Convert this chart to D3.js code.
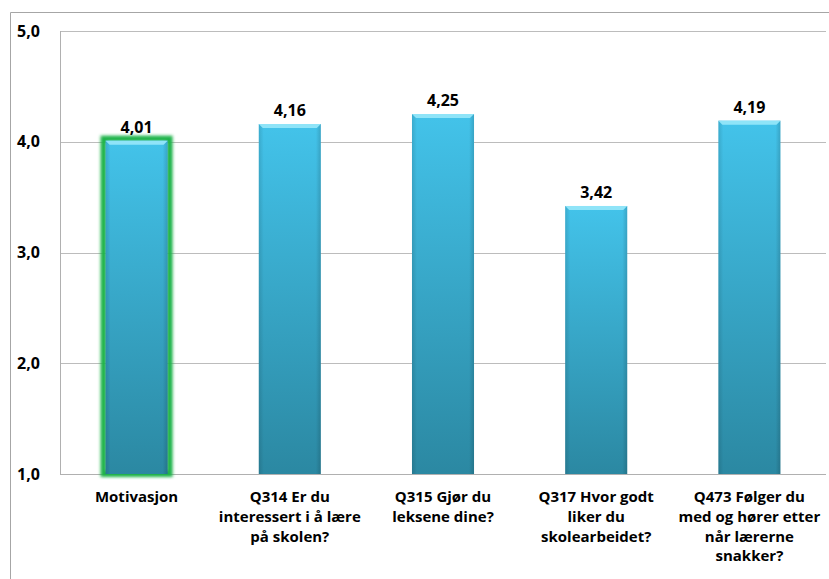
<!DOCTYPE html>
<html><head><meta charset="utf-8">
<script src="https://cdn.jsdelivr.net/npm/d3@7"></script>
<style>
body{margin:0;background:#fff;}
text{font-family:"Open Sans","Noto Sans",sans-serif;font-weight:bold;fill:#000;}
</style></head>
<body><svg id="c" width="829" height="579"></svg>
<script>
const categories = ["Motivasjon","Q314 Er du\ninteressert i å lære\npå skolen?","Q315 Gjør du\nleksene dine?","Q317 Hvor godt\nliker du\nskolearbeidet?","Q473 Følger du\nmed og hører etter\nnår lærerne\nsnakker?"];
const values = [4.01,4.16,4.25,3.42,4.19];
const valueLabels = ["4,01","4,16","4,25","3,42","4,19"];
const yTicks = [1,2,3,4,5];
const yTickLabels = ["1,0","2,0","3,0","4,0","5,0"];
const highlighted = [true,false,false,false,false];

const svg = d3.select("#c");
const L=60, R=826, T=31, B=474;
const x = d3.scaleBand().domain(categories).range([L,R]).paddingInner(0.595).paddingOuter(0.2975);
const y = d3.scaleLinear().domain([1,5]).range([B,T]);

const defs = svg.append("defs");
const gv = defs.append("linearGradient").attr("id","gv").attr("x1",0).attr("y1",0).attr("x2",0).attr("y2",1);
gv.append("stop").attr("offset","0%").attr("stop-color","#43c3ea");
gv.append("stop").attr("offset","100%").attr("stop-color","#2b88a2");
const gh = defs.append("linearGradient").attr("id","gh").attr("x1",0).attr("y1",0).attr("x2",1).attr("y2",0);
gh.append("stop").attr("offset","0%").attr("stop-color","#000").attr("stop-opacity",0.12);
gh.append("stop").attr("offset","8%").attr("stop-color","#000").attr("stop-opacity",0);
gh.append("stop").attr("offset","92%").attr("stop-color","#000").attr("stop-opacity",0);
gh.append("stop").attr("offset","100%").attr("stop-color","#000").attr("stop-opacity",0.15);
const f = defs.append("filter").attr("id","glow").attr("x","-30%").attr("y","-30%").attr("width","160%").attr("height","160%");
f.append("feGaussianBlur").attr("stdDeviation",1.8);

// outer frame
svg.append("path").attr("d",`M10.5,${579} V12.5 H829`).attr("fill","none").attr("stroke","#a6a6a6");

// gridlines
svg.append("g").selectAll("line").data(yTicks.filter(d=>d>1)).join("line")
  .attr("x1",L).attr("x2",R).attr("y1",d=>Math.round(y(d))+0.5).attr("y2",d=>Math.round(y(d))+0.5)
  .attr("stroke","#bcbcbc");
// axes lines
svg.append("line").attr("x1",L+0.5).attr("x2",L+0.5).attr("y1",T).attr("y2",B+0.5).attr("stroke","#b0b0b0");
svg.append("line").attr("x1",L).attr("x2",R).attr("y1",Math.round(y(1))+0.5).attr("y2",Math.round(y(1))+0.5).attr("stroke","#b0b0b0");

// y tick labels
svg.append("g").selectAll("text").data(yTicks).join("text")
  .attr("x",17).attr("y",d=>y(d)+5.5).attr("font-size",16).text((d,i)=>yTickLabels[i]);

// bars
const bars = svg.append("g").selectAll("g").data(categories).join("g");
bars.each(function(c,i){
  const g = d3.select(this);
  const x0 = x(c), w = x.bandwidth(), yt = y(values[i]), h = y(1)-yt;
  if(highlighted[i]){
    g.append("rect").attr("x",x0-2).attr("y",yt-2).attr("width",w+4).attr("height",h+2)
      .attr("fill","none").attr("stroke","#1fb34a").attr("stroke-width",6).attr("filter","url(#glow)");
  }
  g.append("rect").attr("x",x0).attr("y",yt).attr("width",w).attr("height",h).attr("fill","url(#gv)");
  g.append("rect").attr("x",x0).attr("y",yt).attr("width",w).attr("height",h).attr("fill","url(#gh)");
  g.append("path").attr("d",`M${x0},${yt} H${x0+w} L${x0+w-4},${yt+4} H${x0+4} Z`).attr("fill","#8fe4f8");
  g.append("text").attr("x",x0+w/2).attr("y",yt-8).attr("text-anchor","middle").attr("font-size",16).text(valueLabels[i]);
});

// category labels
const cl = svg.append("g").selectAll("text").data(categories).join("text")
  .attr("text-anchor","middle").attr("font-size",15)
  .attr("x",d=>x(d)+x.bandwidth()/2).attr("y",502);
cl.each(function(d){
  const t = d3.select(this);
  d.split("\n").forEach((s,k)=>{
    t.append("tspan").attr("x",x(d)+x.bandwidth()/2).attr("dy",k?19.8:0).text(s);
  });
});
</script></body></html>
